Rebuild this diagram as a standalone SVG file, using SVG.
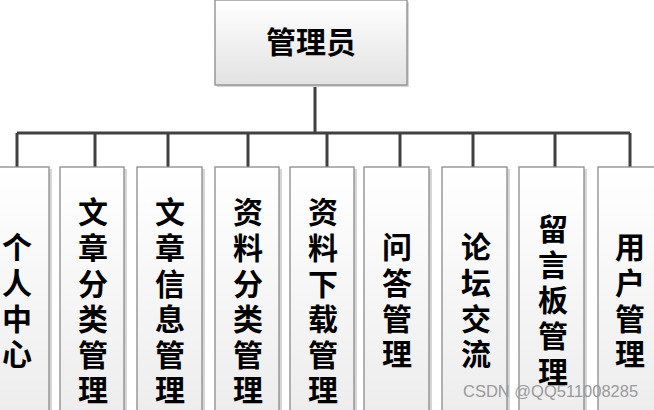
<svg xmlns="http://www.w3.org/2000/svg" width="654" height="410" viewBox="0 0 654 410">
<defs>
<linearGradient id="g" x1="0" y1="0" x2="0" y2="1">
<stop offset="0" stop-color="#ffffff"/>
<stop offset="1" stop-color="#e2e2e2"/>
</linearGradient>
<linearGradient id="gc" x1="0" y1="0" x2="0" y2="1">
<stop offset="0" stop-color="#ffffff"/>
<stop offset="1" stop-color="#ececec"/>
</linearGradient>
</defs>
<style>
.box{fill:url(#gc);stroke:#8a8a8a;stroke-width:1.3}
.top{fill:url(#g);stroke:#8a8a8a;stroke-width:1.3}
.sh{fill:#d6d6d6}
.t{font-family:"Noto Sans CJK SC","Noto Sans",sans-serif;font-weight:bold;font-size:30px;fill:#000;text-anchor:middle}
.ln{stroke:#404040;stroke-width:3;fill:none}
.wm{font-family:"Liberation Sans",Arial,sans-serif;font-size:16.5px;fill:#9a9a9a}
</style>
<rect width="654" height="410" fill="#ffffff"/>
<g id="connectors">
<path class="ln" d="M315 85V133M17 133H630M17 133V167M95 133V167M168 133V167M248 133V167M327 133V167M400 133V167M473 133V167M555 133V167M630 133V167"/>
</g>
<g id="n0">
<rect class="sh" x="217" y="2" width="192" height="85"/>
<rect class="top" x="215" y="0" width="192" height="85"/>
<text class="t" x="311" y="53">管理员</text>
</g>
<g id="n1">
<rect class="sh" x="-12" y="169" width="64" height="260"/>
<rect class="box" x="-15" y="167" width="64" height="260"/>
<text class="t" x="17"><tspan x="17" y="258.4">个</tspan><tspan x="17" y="294">人</tspan><tspan x="17" y="329.6">中</tspan><tspan x="17" y="365.2">心</tspan></text>
</g>
<g id="n2">
<rect class="sh" x="63" y="169" width="64" height="260"/>
<rect class="box" x="60" y="167" width="64" height="260"/>
<text class="t"><tspan x="93" y="223.4">文</tspan><tspan x="93" y="259">章</tspan><tspan x="93" y="294.6">分</tspan><tspan x="93" y="330.2">类</tspan><tspan x="93" y="365.8">管</tspan><tspan x="93" y="401.4">理</tspan></text>
</g>
<g id="n3">
<rect class="sh" x="140" y="169" width="65" height="260"/>
<rect class="box" x="137" y="167" width="65" height="260"/>
<text class="t"><tspan x="170" y="223.4">文</tspan><tspan x="170" y="259">章</tspan><tspan x="170" y="294.6">信</tspan><tspan x="170" y="330.2">息</tspan><tspan x="170" y="365.8">管</tspan><tspan x="170" y="401.4">理</tspan></text>
</g>
<g id="n4">
<rect class="sh" x="218" y="169" width="64" height="260"/>
<rect class="box" x="215" y="167" width="64" height="260"/>
<text class="t"><tspan x="248" y="223.4">资</tspan><tspan x="248" y="259">料</tspan><tspan x="248" y="294.6">分</tspan><tspan x="248" y="330.2">类</tspan><tspan x="248" y="365.8">管</tspan><tspan x="248" y="401.4">理</tspan></text>
</g>
<g id="n5">
<rect class="sh" x="293" y="169" width="64" height="260"/>
<rect class="box" x="290" y="167" width="64" height="260"/>
<text class="t"><tspan x="323" y="223.4">资</tspan><tspan x="323" y="259">料</tspan><tspan x="323" y="294.6">下</tspan><tspan x="323" y="330.2">载</tspan><tspan x="323" y="365.8">管</tspan><tspan x="323" y="401.4">理</tspan></text>
</g>
<g id="n6">
<rect class="sh" x="367" y="169" width="65" height="260"/>
<rect class="box" x="364" y="167" width="65" height="260"/>
<text class="t"><tspan x="397" y="258.4">问</tspan><tspan x="397" y="294">答</tspan><tspan x="397" y="329.6">管</tspan><tspan x="397" y="365.2">理</tspan></text>
</g>
<g id="n7">
<rect class="sh" x="445" y="169" width="65" height="260"/>
<rect class="box" x="442" y="167" width="65" height="260"/>
<text class="t"><tspan x="476" y="258.4">论</tspan><tspan x="476" y="294">坛</tspan><tspan x="476" y="329.6">交</tspan><tspan x="476" y="365.2">流</tspan></text>
</g>
<g id="n8">
<rect class="sh" x="522" y="169" width="65" height="260"/>
<rect class="box" x="519" y="167" width="65" height="260"/>
<text class="t"><tspan x="553" y="240.2">留</tspan><tspan x="553" y="275.8">言</tspan><tspan x="553" y="311.4">板</tspan><tspan x="553" y="347">管</tspan><tspan x="553" y="382.6">理</tspan></text>
</g>
<g id="n9">
<rect class="sh" x="601" y="169" width="64" height="260"/>
<rect class="box" x="598" y="167" width="64" height="260"/>
<text class="t"><tspan x="630" y="258.4">用</tspan><tspan x="630" y="294">户</tspan><tspan x="630" y="329.6">管</tspan><tspan x="630" y="365.2">理</tspan></text>
</g>
<text class="wm" x="463" y="397">CSDN @QQ511008285</text>
</svg>
